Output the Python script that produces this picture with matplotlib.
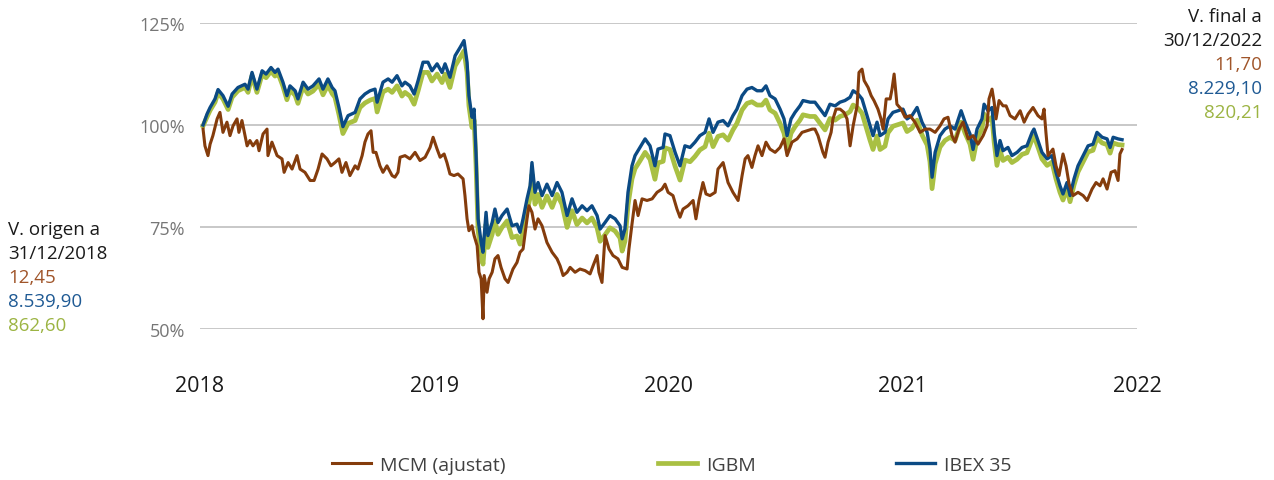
import matplotlib
matplotlib.use("Agg")
import matplotlib.pyplot as plt

plt.rcParams['font.family'] = ['Open Sans', 'DejaVu Sans']

# --- data (years since start of the axis, value as % of origin) ---
t_ibex = [0.013, 0.030, 0.043, 0.064, 0.077, 0.098, 0.120, 0.137, 0.162, 0.192,
          0.205, 0.222, 0.243, 0.265, 0.282, 0.303, 0.320, 0.333, 0.354, 0.371,
          0.384, 0.406, 0.418, 0.440, 0.461, 0.482, 0.508, 0.525, 0.546, 0.564,
          0.576, 0.593, 0.610, 0.632, 0.662, 0.683, 0.704, 0.726, 0.747, 0.756,
          0.781, 0.803, 0.820, 0.841, 0.862, 0.875, 0.896, 0.914, 0.931, 0.952,
          0.973, 0.990, 1.012, 1.033, 1.046, 1.067, 1.089, 1.110, 1.127, 1.140,
          1.148, 1.161, 1.170, 1.178, 1.187, 1.200, 1.208, 1.221, 1.229, 1.247,
          1.259, 1.272, 1.289, 1.311, 1.332, 1.353, 1.366, 1.379, 1.396, 1.409,
          1.417, 1.430, 1.443, 1.460, 1.481, 1.503, 1.524, 1.545, 1.567, 1.588,
          1.609, 1.631, 1.652, 1.673, 1.695, 1.708, 1.729, 1.750, 1.772, 1.793,
          1.802, 1.814, 1.827, 1.844, 1.857, 1.878, 1.900, 1.921, 1.942, 1.955,
          1.977, 1.985, 2.006, 2.028, 2.049, 2.070, 2.092, 2.113, 2.134, 2.156,
          2.173, 2.190, 2.211, 2.233, 2.254, 2.275, 2.292, 2.314, 2.335, 2.356,
          2.378, 2.399, 2.416, 2.433, 2.455, 2.476, 2.493, 2.506, 2.523, 2.540,
          2.561, 2.574, 2.604, 2.625, 2.647, 2.668, 2.689, 2.711, 2.732, 2.753,
          2.775, 2.788, 2.809, 2.826, 2.839, 2.860, 2.873, 2.890, 2.903, 2.924,
          2.937, 2.958, 2.980, 3.001, 3.018, 3.039, 3.061, 3.082, 3.104, 3.116,
          3.125, 3.138, 3.159, 3.180, 3.202, 3.223, 3.249, 3.266, 3.287, 3.300,
          3.317, 3.338, 3.347, 3.364, 3.381, 3.390, 3.402, 3.415, 3.428, 3.449,
          3.466, 3.488, 3.509, 3.530, 3.552, 3.560, 3.577, 3.594, 3.616, 3.637,
          3.654, 3.671, 3.684, 3.701, 3.714, 3.731, 3.748, 3.770, 3.791, 3.812,
          3.829, 3.851, 3.872, 3.885, 3.898, 3.919, 3.936]

ibex = [100.0, 102.7, 104.3, 106.4, 108.7, 107.2, 104.6, 107.6, 109.2, 110.0,
        108.8, 112.9, 108.8, 113.3, 112.5, 114.1, 112.9, 113.7, 110.5, 107.2,
        109.6, 108.4, 106.4, 110.5, 108.8, 109.6, 111.3, 108.8, 111.3, 109.2,
        108.4, 104.3, 99.6, 102.3, 103.1, 106.4, 107.6, 108.4, 108.8, 105.6,
        110.5, 111.3, 110.5, 112.1, 109.6, 110.5, 109.6, 107.6, 110.9, 115.4,
        115.4, 113.3, 115.0, 112.9, 115.0, 111.7, 117.0, 119.0, 120.7, 115.4,
        107.2, 101.9, 103.9, 93.3, 77.0, 71.2, 68.8, 78.6, 72.9, 76.1,
        79.4, 76.1, 77.8, 79.4, 75.3, 75.7, 73.7, 77.0, 81.9, 85.1,
        90.8, 83.5, 85.9, 82.7, 85.5, 82.7, 85.9, 83.5, 77.8, 81.9,
        78.6, 80.2, 79.0, 80.2, 77.8, 74.5, 76.1, 77.8, 77.0, 75.3,
        72.1, 74.5, 83.5, 90.0, 92.5, 94.5, 96.6, 94.9, 90.0, 94.1,
        94.5, 97.8, 97.4, 93.3, 90.0, 94.9, 94.5, 95.8, 97.4, 98.2,
        101.5, 98.2, 100.7, 101.1, 99.8, 102.3, 103.9, 107.2, 108.8, 109.2,
        108.4, 108.4, 109.6, 107.2, 106.4, 103.9, 101.5, 97.4, 101.5, 103.1,
        104.7, 106.0, 105.6, 105.6, 103.9, 102.3, 105.1, 104.7, 105.6, 106.0,
        106.8, 108.4, 107.6, 106.4, 103.9, 99.8, 97.4, 100.7, 97.4, 98.2,
        101.5, 103.1, 103.5, 103.9, 101.5, 102.3, 104.3, 100.7, 98.2, 94.1,
        87.2, 93.3, 97.4, 99.0, 99.8, 99.0, 103.5, 100.7, 97.8, 94.0,
        99.0, 101.5, 105.1, 103.5, 104.3, 98.2, 92.5, 96.2, 93.7, 94.5,
        92.5, 93.3, 94.5, 94.9, 98.2, 99.0, 96.2, 93.3, 91.7, 92.5,
        88.4, 85.1, 83.1, 85.9, 82.7, 86.8, 90.0, 92.5, 94.9, 95.3,
        98.2, 97.0, 96.6, 94.5, 97.0, 96.6, 96.4]

igbm = [99.8, 102.0, 103.6, 105.6, 107.9, 106.4, 103.8, 106.8, 108.4, 109.2,
        108.0, 112.1, 108.0, 112.4, 111.6, 113.2, 112.0, 112.7, 109.5, 106.2,
        108.6, 107.3, 105.3, 109.4, 107.6, 108.3, 110.0, 107.4, 109.8, 107.7,
        106.8, 102.6, 97.9, 100.4, 101.1, 104.3, 105.4, 106.1, 106.5, 103.2,
        108.1, 108.8, 108.0, 109.6, 107.1, 108.0, 107.1, 105.1, 108.4, 112.9,
        112.9, 110.8, 112.5, 110.4, 112.5, 109.2, 114.5, 116.5, 118.2, 112.9,
        104.7, 99.4, 101.2, 90.5, 74.2, 68.3, 65.9, 75.7, 70.0, 73.2,
        76.5, 73.2, 74.9, 76.5, 72.4, 72.8, 70.8, 74.1, 79.0, 82.2,
        87.9, 80.6, 83.0, 79.8, 82.6, 79.8, 83.0, 80.6, 74.9, 79.0,
        75.6, 77.2, 76.0, 77.2, 74.8, 71.5, 73.1, 74.8, 74.0, 72.3,
        69.1, 71.5, 80.4, 86.8, 89.3, 91.2, 93.3, 91.6, 86.7, 90.7,
        91.1, 94.4, 94.0, 89.9, 86.5, 91.4, 91.0, 92.3, 93.9, 94.7,
        98.0, 94.7, 97.2, 97.6, 96.3, 98.8, 100.4, 103.7, 105.3, 105.7,
        104.9, 104.9, 106.1, 103.7, 102.9, 100.4, 98.0, 93.9, 98.0, 99.6,
        101.2, 102.5, 102.1, 102.1, 100.4, 98.8, 101.6, 101.2, 102.1, 102.5,
        103.3, 104.9, 104.1, 102.9, 100.4, 96.3, 94.0, 97.3, 94.0, 94.8,
        98.1, 99.7, 100.1, 100.5, 98.4, 99.2, 101.2, 97.6, 95.1, 91.0,
        84.4, 90.5, 94.6, 96.2, 97.0, 96.2, 100.7, 98.0, 95.3, 91.6,
        96.6, 99.1, 102.7, 101.1, 101.9, 95.8, 90.1, 93.8, 91.3, 92.1,
        90.8, 91.6, 92.8, 93.2, 96.5, 97.3, 94.6, 91.7, 90.1, 90.9,
        86.8, 83.5, 81.6, 84.4, 81.2, 85.3, 88.5, 91.0, 93.4, 93.8,
        96.8, 95.6, 95.2, 93.1, 95.6, 95.2, 95.1]

t_mcm = [0.013, 0.021, 0.034, 0.043, 0.055, 0.073, 0.085, 0.098, 0.115, 0.128,
         0.141, 0.158, 0.166, 0.179, 0.201, 0.213, 0.226, 0.243, 0.252, 0.269,
         0.286, 0.290, 0.307, 0.329, 0.350, 0.359, 0.376, 0.393, 0.414, 0.427,
         0.448, 0.470, 0.487, 0.504, 0.521, 0.542, 0.559, 0.576, 0.593, 0.606,
         0.623, 0.640, 0.662, 0.674, 0.692, 0.704, 0.717, 0.730, 0.739, 0.751,
         0.768, 0.781, 0.798, 0.820, 0.832, 0.845, 0.854, 0.875, 0.896, 0.918,
         0.939, 0.961, 0.982, 0.995, 1.012, 1.025, 1.042, 1.054, 1.067, 1.084,
         1.101, 1.123, 1.131, 1.140, 1.148, 1.161, 1.170, 1.183, 1.191, 1.200,
         1.208, 1.213, 1.225, 1.234, 1.247, 1.259, 1.272, 1.285, 1.302, 1.315,
         1.336, 1.353, 1.366, 1.379, 1.396, 1.404, 1.417, 1.430, 1.443, 1.460,
         1.481, 1.503, 1.524, 1.537, 1.550, 1.567, 1.580, 1.601, 1.622, 1.644,
         1.665, 1.678, 1.695, 1.703, 1.716, 1.729, 1.746, 1.763, 1.784, 1.802,
         1.823, 1.831, 1.844, 1.857, 1.870, 1.887, 1.908, 1.930, 1.951, 1.972,
         1.985, 1.998, 2.019, 2.036, 2.049, 2.062, 2.083, 2.105, 2.117, 2.130,
         2.147, 2.160, 2.177, 2.199, 2.211, 2.233, 2.254, 2.275, 2.297, 2.314,
         2.327, 2.339, 2.356, 2.369, 2.382, 2.399, 2.416, 2.433, 2.455, 2.476,
         2.493, 2.506, 2.527, 2.549, 2.570, 2.591, 2.613, 2.625, 2.638, 2.659,
         2.668, 2.681, 2.694, 2.702, 2.715, 2.732, 2.749, 2.762, 2.775, 2.788,
         2.805, 2.813, 2.826, 2.835, 2.852, 2.865, 2.877, 2.894, 2.907, 2.916,
         2.929, 2.946, 2.954, 2.963, 2.975, 2.993, 3.010, 3.031, 3.052, 3.074,
         3.095, 3.116, 3.138, 3.159, 3.176, 3.193, 3.210, 3.223, 3.240, 3.257,
         3.279, 3.300, 3.321, 3.343, 3.360, 3.368, 3.381, 3.390, 3.398, 3.411,
         3.428, 3.441, 3.458, 3.479, 3.501, 3.518, 3.535, 3.556, 3.577, 3.594,
         3.603, 3.611, 3.620, 3.641, 3.654, 3.667, 3.684, 3.697, 3.710, 3.727,
         3.748, 3.770, 3.787, 3.808, 3.825, 3.842, 3.855, 3.872, 3.889, 3.906,
         3.919, 3.927, 3.936]

mcm = [99.0, 94.9, 92.5, 95.3, 97.4, 101.5, 103.1, 98.2, 100.7, 97.4,
       99.8, 101.5, 98.2, 101.1, 94.9, 96.2, 94.9, 96.2, 93.7, 97.8,
       99.0, 92.5, 95.8, 92.5, 91.7, 88.4, 90.8, 89.2, 92.5, 89.2,
       88.4, 86.4, 86.4, 89.2, 92.9, 91.7, 90.0, 90.8, 91.7, 88.4,
       90.8, 87.6, 90.0, 89.2, 92.5, 95.8, 97.8, 98.6, 93.3, 93.3,
       90.0, 88.4, 90.0, 87.6, 87.2, 88.4, 92.1, 92.5, 91.7, 93.3,
       91.3, 92.1, 94.5, 97.0, 94.1, 92.1, 92.9, 90.8, 88.0, 87.6,
       88.0, 86.8, 82.7, 77.0, 74.1, 75.3, 72.9, 70.4, 63.9, 62.3,
       52.5, 63.1, 59.0, 62.3, 63.9, 67.2, 68.0, 65.1, 62.3, 61.4,
       64.7, 66.3, 68.8, 69.6, 77.0, 80.2, 78.6, 74.5, 77.0, 75.3,
       71.2, 68.8, 67.2, 65.5, 63.1, 63.9, 65.1, 63.9, 64.7, 64.3,
       63.5, 65.5, 68.0, 63.9, 61.4, 72.9, 69.6, 68.0, 67.2, 65.1,
       64.7, 69.6, 75.7, 81.5, 77.8, 81.9, 81.5, 81.9, 83.5, 84.3,
       85.5, 83.5, 82.7, 79.4, 77.4, 79.4, 80.2, 81.5, 77.0, 81.5,
       85.9, 83.1, 82.7, 83.5, 89.2, 90.8, 85.9, 83.5, 81.5, 87.6,
       91.7, 92.5, 89.6, 92.5, 94.9, 92.5, 95.8, 94.1, 93.3, 94.5,
       96.6, 92.5, 95.8, 96.6, 98.2, 98.6, 99.0, 99.0, 97.4, 93.3,
       92.1, 95.8, 98.2, 101.5, 103.9, 103.9, 103.1, 101.5, 94.9, 99.8,
       104.7, 112.9, 113.7, 110.9, 109.2, 107.2, 106.0, 103.9, 101.5, 99.0,
       106.4, 106.4, 108.8, 112.5, 105.1, 103.9, 101.9, 102.3, 100.7, 98.2,
       99.0, 99.0, 98.2, 99.8, 101.5, 101.9, 97.4, 95.8, 99.0, 100.7,
       96.6, 97.4, 95.3, 97.4, 99.8, 106.4, 108.8, 105.6, 101.5, 106.0,
       104.7, 104.7, 102.3, 101.5, 103.5, 100.7, 102.7, 104.3, 102.3, 101.5,
       103.9, 98.2, 92.5, 94.1, 90.0, 87.6, 92.9, 90.0, 85.5, 82.7,
       83.5, 82.7, 81.5, 84.3, 85.9, 85.1, 86.8, 84.3, 88.4, 88.8,
       86.4, 92.9, 94.0]

years = [2018, 2019, 2020, 2021, 2022]
y_ticks = [50, 75, 100, 125]

brown = '#843C0C'
green = '#A9C043'
blue = '#0B4A84'

fig = plt.figure(figsize=(12.74, 4.81), dpi=100)
ax = fig.add_axes([0.157, 0.314, 0.7355, 0.636])

l_igbm, = ax.plot(t_ibex, igbm, color=green, lw=3.4, zorder=2)
l_ibex, = ax.plot(t_ibex, ibex, color=blue, lw=2.4, zorder=3)
l_mcm, = ax.plot(t_mcm, mcm, color=brown, lw=2.2, zorder=4)

ax.set_xlim(0, 4)
ax.set_ylim(50, 125)
ax.set_yticks(y_ticks)
ax.set_yticklabels([f'{v}%' for v in y_ticks])
ax.set_xticks(range(len(years)))
ax.set_xticklabels([str(y) for y in years])
ax.grid(axis='y', color='#c4c4c4', lw=1.3)
ax.set_axisbelow(True)
for s in ax.spines.values():
    s.set_visible(False)
ax.tick_params(axis='y', length=0, pad=11, labelsize=13, labelcolor='#767676')
ax.tick_params(axis='x', length=0, pad=33, labelsize=15.5, labelcolor='#1a1a1a')

# legend: one small legend per entry so the spacing follows the reference
for line, name, xpos in [(l_mcm, 'MCM (ajustat)', 332),
                         (l_igbm, 'IGBM', 658),
                         (l_ibex, 'IBEX 35', 896)]:
    lg = fig.legend([line], [name], loc='center left',
                    bbox_to_anchor=(xpos / 1274, 1 - 466 / 481),
                    frameon=False, fontsize=14, handlelength=2.0,
                    handletextpad=0.45, borderpad=0, borderaxespad=0,
                    labelcolor='#404040')

# origin / final value notes
fs = 13.5
fig.text(8 / 1274, 1 - 230 / 481, 'V. origen a', fontsize=fs, color='#1a1a1a', va='center')
fig.text(8 / 1274, 1 - 254 / 481, '31/12/2018', fontsize=fs, color='#1a1a1a', va='center')
fig.text(8 / 1274, 1 - 278 / 481, '12,45', fontsize=fs, color='#A0552A', va='center')
fig.text(8 / 1274, 1 - 302 / 481, '8.539,90', fontsize=fs, color='#1F5A94', va='center')
fig.text(8 / 1274, 1 - 326 / 481, '862,60', fontsize=fs, color='#9CB443', va='center')

rx = 1262 / 1274
fig.text(rx, 1 - 17 / 481, 'V. final a', fontsize=fs, color='#1a1a1a', va='center', ha='right')
fig.text(rx, 1 - 41 / 481, '30/12/2022', fontsize=fs, color='#1a1a1a', va='center', ha='right')
fig.text(rx, 1 - 65 / 481, '11,70', fontsize=fs, color='#A0552A', va='center', ha='right')
fig.text(rx, 1 - 89 / 481, '8.229,10', fontsize=fs, color='#1F5A94', va='center', ha='right')
fig.text(rx, 1 - 113 / 481, '820,21', fontsize=fs, color='#9CB443', va='center', ha='right')

fig.savefig('out.png', dpi=100)
